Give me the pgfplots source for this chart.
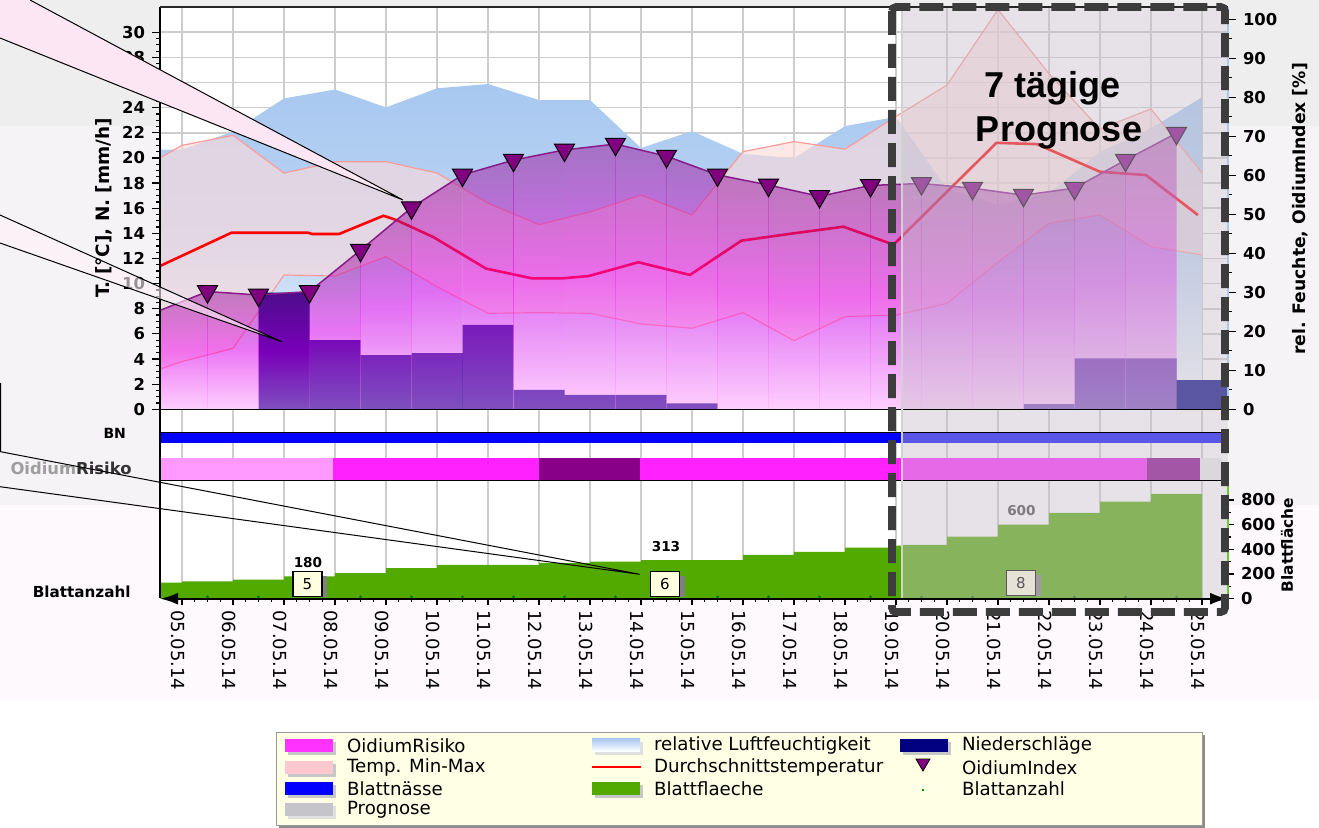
\documentclass[border=0pt]{standalone}
\usepackage{pgfplots}
\pgfplotsset{compat=1.18}
\usepackage{fontspec}
\setmainfont{DejaVu Sans}
\newfontfamily\arialfont{Liberation Sans}
\usetikzlibrary{arrows.meta}

\definecolor{bgA}{HTML}{EEEEEE}
\definecolor{bgB}{HTML}{F5F3F5}
\definecolor{bgC}{HTML}{FDF9FD}
\definecolor{gridc}{HTML}{CDCDCD}
\definecolor{humid}{HTML}{A8C8F0}
\definecolor{humidM}{HTML}{BCD4F4}
\definecolor{tband}{HTML}{FCDADA}
\definecolor{tline}{HTML}{FF9A9A}
\definecolor{navy}{HTML}{000080}
\definecolor{oTop}{HTML}{9A1A98}
\definecolor{oMid}{HTML}{F000F0}
\definecolor{oBot}{HTML}{FFA0FF}
\definecolor{oLine}{HTML}{8A1A8A}
\definecolor{oMark}{HTML}{800080}
\definecolor{ovl}{HTML}{C8C0CC}
\definecolor{bn}{HTML}{0000FF}
\definecolor{orLight}{HTML}{FF99FF}
\definecolor{orMag}{HTML}{FF22FF}
\definecolor{orDark}{HTML}{880088}
\definecolor{orNone}{HTML}{ECECEC}
\definecolor{leafg}{HTML}{52AA00}
\definecolor{leafax}{HTML}{70C830}
\definecolor{boxcream}{HTML}{FFFFE0}
\definecolor{dashc}{HTML}{3C3C3C}
\definecolor{legbg}{HTML}{FFFFE6}
\definecolor{legMag}{HTML}{FF33FF}
\definecolor{legPink}{HTML}{FFC8D0}
\definecolor{legGray}{HTML}{C4C4CA}

\pgfplotsset{
  base/.style={scale only axis, anchor=south west, width=534pt,
     xmin=-0.4314, xmax=20.5098},
  mainbox/.style={base, at={(80pt,208.85pt)}, height=201.15pt},
  leftscale/.style={ymin=0, ymax=32.01},
  rightscale/.style={ymin=0, ymax=103.15},
  ocol/.style={draw=none, fill opacity=0.5, top color=oTop, bottom color=oBot, middle color=oMid},
}
\newcommand{\tlfont}{\bfseries\fontsize{8.2}{9}\selectfont}
\newcommand{\legfont}{\fontsize{9.1}{10}\selectfont}

\begin{document}
\begin{tikzpicture}
\useasboundingbox (0,0) rectangle (659.5pt,413.5pt);
% ---------- backgrounds ----------
\begin{scope}[shift={(0pt,413.5pt)}, x=0.5pt, y=-0.5pt]
  \fill[white] (0,0) rectangle (1319,827);
  \fill[bgC] (0,0) rectangle (1319,700);
  \fill[bgB] (0,126) rectangle (160,505);
  \fill[bgB] (1228,126) rectangle (1319,505);
  \fill[bgA] (0,0) rectangle (160,126);
  \fill[bgA] (1228,0) rectangle (1319,126);
  \fill[bgA] (160,0) rectangle (1228,7);
  \fill[white] (160,7) rectangle (1228,598.7);
\end{scope}

% ---------- main grid ----------
\begin{axis}[mainbox, leftscale, xtick={0,...,20}, ytick={0,2,...,32}, grid=major,
  major grid style={gridc, line width=0.8pt}, axis line style={draw=none},
  tick style={draw=none}, xticklabel=\empty, yticklabel=\empty]
\addplot[draw=none] coordinates {(0,0)};
\end{axis}
% ---------- rows + bottom grid ----------
\begin{axis}[base, at={(80pt,114.15pt)}, height=94.7pt, ymin=0, ymax=1,
  xtick={0,...,20}, ytick=\empty, xmajorgrids,
  major grid style={gridc, line width=0.8pt}, axis line style={draw=none},
  tick style={draw=none}, xticklabel=\empty]
\addplot[draw=none] coordinates {(0,0)};
\end{axis}

% ---------- humidity (right scale) ----------
\begin{axis}[mainbox, rightscale, hide axis]
\addplot[draw=none, top color=humid, bottom color=white, middle color=humidM] coordinates {(-0.4314,66.6) (0,66.6) (1,71.2) (2,79.7) (3,82.0) (4,77.4) (5,82.3) (6,83.4) (7,79.3) (8,79.3) (9,67.0) (10,71.3) (11,65.5) (12,64.4) (13,72.6) (14,75.0) (15,56.5) (16,52.5) (17,55.4) (18,66.0) (19,72.0) (20,80.0)} \closedcycle;
\end{axis}

% ---------- temperature, precipitation (left scale) ----------
\begin{axis}[mainbox, leftscale, hide axis]
\addplot[draw=none, fill=tband, fill opacity=0.62] coordinates {
 (-0.4314,20.0) (0,21.0) (1,21.8) (2,18.8) (3,19.7) (4,19.7) (5,18.8) (6,16.4) (7,14.7) (8,15.7) (9,17.05) (10,15.46) (11,20.5) (12,21.3) (13,20.7) (14,23.3) (15,25.8) (16,31.8) (17,26.7) (18,22.3) (19,23.9) (20,18.8)
 (20,12.28) (19,12.94) (18,15.46) (17,14.8) (16,11.7) (15,8.43) (14,7.5) (13,7.37) (12,5.46) (11,7.69) (10,6.45) (9,6.79) (8,7.64) (7,7.69) (6,7.64) (5,9.76) (4,12.14) (3,10.6) (2,10.69) (1,4.85) (0,3.8) (-0.4314,3.2)} -- cycle;
\addplot[tline, line width=0.6pt] coordinates {(-0.4314,20.0) (0,21.0) (1,21.8) (2,18.8) (3,19.7) (4,19.7) (5,18.8) (6,16.4) (7,14.7) (8,15.7) (9,17.05) (10,15.46) (11,20.5) (12,21.3) (13,20.7) (14,23.3) (15,25.8) (16,31.8) (17,26.7) (18,22.3) (19,23.9) (20,18.8)};
\addplot[tline, line width=0.6pt] coordinates {(-0.4314,3.2) (0,3.8) (1,4.85) (2,10.69) (3,10.6) (4,12.14) (5,9.76) (6,7.64) (7,7.69) (8,7.64) (9,6.79) (10,6.45) (11,7.69) (12,5.46) (13,7.37) (14,7.5) (15,8.43) (16,11.7) (17,14.8) (18,15.46) (19,12.94) (20,12.28)};
\addplot[red, line width=1.3pt] coordinates {(-0.4314,11.4) (0.97,14.05) (2.47,14.05) (2.55,13.95) (3.08,13.95) (3.95,15.4) (4.2,15.06) (4.93,13.7) (5.96,11.2) (6.86,10.42) (7.45,10.42) (7.97,10.6) (8.95,11.7) (9.96,10.69) (10.97,13.42) (11.99,14.0) (12.97,14.53) (13.95,13.1) (15.97,21.2) (16.76,21.1) (18.0,18.9) (18.9,18.64) (19.92,15.46)};
\addplot[const plot, draw=none, fill=navy] coordinates {(1.5,9.28) (2.5,5.51) (3.5,4.32) (4.5,4.46) (5.5,6.71) (6.5,1.54) (7.5,1.14) (9.5,0.48) (10.5,0) (16.5,0.42) (17.5,4.06) (19.5,2.33) (20.6,2.33)} \closedcycle;
\end{axis}

% ---------- OidiumIndex (right scale) ----------
\begin{axis}[mainbox, rightscale, axis x line=none, axis y line*=right, axis on top,
  clip marker paths=true,
  ytick={0,10,...,100}, minor y tick num=1, tick align=outside,
  major tick length=4pt, minor tick length=2pt,
  tick style={black, line width=0.6pt},
  y axis line style={draw=humid, line width=1pt, -},
  yticklabel style={font=\tlfont},
  /pgf/number format/assume math mode=true]
\addplot[ocol] coordinates {(-0.5,25.0) (0.5,30.2)} \closedcycle;
\addplot[ocol] coordinates {(0.5,30.2) (1.5,29.3)} \closedcycle;
\addplot[ocol] coordinates {(1.5,29.3) (2.5,30.2)} \closedcycle;
\addplot[ocol] coordinates {(2.5,30.2) (3.5,40.8)} \closedcycle;
\addplot[ocol] coordinates {(3.5,40.8) (4.5,51.7)} \closedcycle;
\addplot[ocol] coordinates {(4.5,51.7) (5.5,60.1)} \closedcycle;
\addplot[ocol] coordinates {(5.5,60.1) (6.5,63.9)} \closedcycle;
\addplot[ocol] coordinates {(6.5,63.9) (7.5,66.5)} \closedcycle;
\addplot[ocol] coordinates {(7.5,66.5) (8.5,68.0)} \closedcycle;
\addplot[ocol] coordinates {(8.5,68.0) (9.5,64.9)} \closedcycle;
\addplot[ocol] coordinates {(9.5,64.9) (10.5,60.1)} \closedcycle;
\addplot[ocol] coordinates {(10.5,60.1) (11.5,57.5)} \closedcycle;
\addplot[ocol] coordinates {(11.5,57.5) (12.5,54.6)} \closedcycle;
\addplot[ocol] coordinates {(12.5,54.6) (13.5,57.4)} \closedcycle;
\addplot[ocol] coordinates {(13.5,57.4) (14.5,57.9)} \closedcycle;
\addplot[ocol] coordinates {(14.5,57.9) (15.5,56.7)} \closedcycle;
\addplot[ocol] coordinates {(15.5,56.7) (16.5,54.9)} \closedcycle;
\addplot[ocol] coordinates {(16.5,54.9) (17.5,56.7)} \closedcycle;
\addplot[ocol] coordinates {(17.5,56.7) (18.5,63.9)} \closedcycle;
\addplot[ocol] coordinates {(18.5,63.9) (19.5,70.8)} \closedcycle;
\addplot[oLine, line width=0.75pt, mark=triangle*, mark size=5.8pt,
  mark options={rotate=180, fill=oMark, draw=black, line width=0.5pt}] coordinates {(-0.5,25.0) (0.5,30.2) (1.5,29.3) (2.5,30.2) (3.5,40.8) (4.5,51.7) (5.5,60.1) (6.5,63.9) (7.5,66.5) (8.5,68.0) (9.5,64.9) (10.5,60.1) (11.5,57.5) (12.5,54.6) (13.5,57.4) (14.5,57.9) (15.5,56.7) (16.5,54.9) (17.5,56.7) (18.5,63.9) (19.5,70.8)};
\addplot[draw=none, fill=ovl, fill opacity=0.45] coordinates {(14.12,0) (20.5098,0) (20.5098,103.15) (14.12,103.15)} -- cycle;
\end{axis}

% ---------- left axis (frame) ----------
\begin{axis}[mainbox, leftscale, axis x line=none, axis y line*=left,
  ytick={0,2,...,30}, minor y tick num=3, tick align=outside,
  major tick length=4pt, minor tick length=2pt,
  tick style={black, line width=0.6pt},
  y axis line style={black, line width=1.3pt, -},
  yticklabel style={font=\tlfont},
  /pgf/number format/assume math mode=true]
\addplot[draw=none] coordinates {(0,0)};
\end{axis}

% ---------- rows BN / OidiumRisiko ----------
\begin{axis}[base, at={(80pt,173pt)}, height=35.85pt, ymin=0, ymax=71.7, hide axis]
\addplot[draw=none, fill=bn] coordinates {(-0.4314,37.7) (20.39,37.7) (20.39,48.3) (-0.4314,48.3)} -- cycle;
\addplot[draw=none, fill=orLight] coordinates {(-0.4314,1) (2.951,1) (2.951,22.7) (-0.4314,22.7)} -- cycle;
\addplot[draw=none, fill=orMag] coordinates {(2.951,1) (6.994,1) (6.994,22.7) (2.951,22.7)} -- cycle;
\addplot[draw=none, fill=orDark] coordinates {(6.994,1) (8.975,1) (8.975,22.7) (6.994,22.7)} -- cycle;
\addplot[draw=none, fill=orMag] coordinates {(8.975,1) (18.92,1) (18.92,22.7) (8.975,22.7)} -- cycle;
\addplot[draw=none, fill=orDark] coordinates {(18.92,1) (19.96,1) (19.96,22.7) (18.92,22.7)} -- cycle;
\addplot[draw=none, fill=orNone] coordinates {(19.96,1) (20.39,1) (20.39,22.7) (19.96,22.7)} -- cycle;
\end{axis}

% ---------- leaf area (bottom) ----------
\begin{axis}[base, at={(80pt,114.15pt)}, height=58.85pt, ymin=0, ymax=953.5, hide axis, clip=false]
\addplot[const plot, draw=none, fill=leafg] coordinates {(-0.4314,130) (0,140) (1,154) (2,180) (3,208) (4,248) (5,275) (7,290) (8,300) (9,313) (11,356) (12,380) (13,413) (14,430) (14.14,437) (15,502) (16,600) (17,696) (18,786) (19,850) (20,850)} \closedcycle;
\addplot[only marks, mark=*, mark size=0.5pt, color=green!45!black] coordinates {(0.5,15) (1.5,15) (3.5,15) (4.5,15) (5.5,15) (6.5,15) (7.5,15) (8.5,15) (10.5,15) (11.5,15) (12.5,15) (13.5,15) (14.5,15) (15.5,15) (17.5,15) (18.5,15) (19.5,15)};
\node[font=\bfseries\fontsize{6.8}{7}\selectfont] at (axis cs:2.47,291) {180};
\node[font=\bfseries\fontsize{6.8}{7}\selectfont] at (axis cs:9.49,420) {313};
\node[font=\bfseries\fontsize{6.8}{7}\selectfont, text=black!75] at (axis cs:16.46,711) {600};
\fill[black!50] ([xshift=7pt,yshift=4.3pt]axis cs:2.46,117) rectangle ([xshift=10pt,yshift=-6.2pt]axis cs:2.46,117);
\node[draw=black, fill=boxcream, line width=0.6pt, minimum width=14.5pt, minimum height=12.4pt, inner sep=0pt, font=\fontsize{7.5}{8}\selectfont] at (axis cs:2.46,117) {5};
\fill[black!50] ([xshift=7pt,yshift=4.3pt]axis cs:9.47,117) rectangle ([xshift=10pt,yshift=-6.2pt]axis cs:9.47,117);
\node[draw=black, fill=boxcream, line width=0.6pt, minimum width=14.5pt, minimum height=12.4pt, inner sep=0pt, font=\fontsize{7.5}{8}\selectfont] at (axis cs:9.47,117) {6};
\fill[black!50] ([xshift=7pt,yshift=4.3pt]axis cs:16.45,125) rectangle ([xshift=10pt,yshift=-6.2pt]axis cs:16.45,125);
\node[draw=black, fill=boxcream, line width=0.6pt, minimum width=14.5pt, minimum height=12.4pt, inner sep=0pt, font=\fontsize{7.5}{8}\selectfont] at (axis cs:16.45,125) {8};
\end{axis}

% ---------- overlay rows + bottom ----------
\begin{axis}[base, at={(80pt,114.15pt)}, height=94.7pt, ymin=0, ymax=1, hide axis]
\addplot[draw=none, fill=ovl, fill opacity=0.45] coordinates {(14.12,0) (20.5098,0) (20.5098,1) (14.12,1)} -- cycle;
\end{axis}

% ---------- bottom frame with date axis ----------
\begin{axis}[base, at={(80pt,114.15pt)}, height=58.85pt, ymin=0, ymax=953.5,
  axis x line*=bottom, axis y line*=right,
  x axis line style={line width=1.2pt, {Latex[length=9pt,width=6pt]}-{Latex[length=9pt,width=6pt]}},
  y axis line style={draw=leafax, line width=0.9pt, -},
  xtick={0,...,20}, minor x tick num=3,
  xticklabels={05.05.14,06.05.14,07.05.14,08.05.14,09.05.14,10.05.14,11.05.14,12.05.14,13.05.14,14.05.14,15.05.14,16.05.14,17.05.14,18.05.14,19.05.14,20.05.14,21.05.14,22.05.14,23.05.14,24.05.14,25.05.14},
  ytick={0,200,...,800}, minor y tick num=1,
  tick align=outside, major tick length=3pt, minor tick length=1.6pt,
  tick style={black, line width=0.6pt},
  xticklabel style={rotate=-90, anchor=west, yshift=-2.2pt, xshift=-0.8pt, font=\fontsize{9}{10}\selectfont},
  yticklabel style={font=\tlfont},
  /pgf/number format/assume math mode=true]
\addplot[draw=none] coordinates {(0,0)};
\end{axis}

% ---------- decorations, titles, legend ----------
\begin{scope}[shift={(0pt,413.5pt)}, x=0.5pt, y=-0.5pt]
  \draw[black!85, line width=0.75pt] (160,7) -- (1228,7);
  \draw[black, line width=0.8pt] (160,409.3) -- (1222,409.3);
  \draw[black, line width=0.75pt] (160,432.3) -- (1222,432.3);
  \draw[black, line width=0.75pt] (160,480.7) -- (1222,480.7);
  \draw[black, line width=0.7pt] (160,409) -- (160,598);
  \draw[black!18, line width=1pt] (902,7) -- (902,598);
  \fill[magenta!10] (0,0) -- (30,0) -- (403,200) -- (0,38) -- cycle;
  \fill[magenta!5, fill opacity=0.6] (0,215) -- (281.7,341.7) -- (0,243) -- cycle;
  \node[rotate=90, font=\bfseries\fontsize{9.2}{10}\selectfont] at (104,208) {T. [°C], N. [mm/h]};
  \node[rotate=90, font=\bfseries\fontsize{8.6}{10}\selectfont] at (1300,209) {rel. Feuchte, OidiumIndex [\%]};
  \node[rotate=90, font=\bfseries\fontsize{7.7}{8}\selectfont] at (1287,545) {Blattfläche};
  \node[anchor=east, font=\bfseries\fontsize{7}{8}\selectfont] at (133,433) {BN};
  \node[anchor=east, font=\bfseries\fontsize{8.2}{9}\selectfont, inner sep=0pt] at (132,468) {\textcolor{black!38}{Oidium}\textcolor{black!80}{Risiko}};
  \node[anchor=east, font=\bfseries\fontsize{7.6}{8}\selectfont, inner sep=0pt] at (131,592) {Blattanzahl};
  \draw[dashc, line width=3.8pt, dash pattern=on 12pt off 4.5pt, rounded corners=2pt] (892,7) rectangle (1225,612);
  \node[anchor=base, font=\arialfont\bfseries\fontsize{18}{20}\selectfont, inner sep=0pt] at (1053,98) {7 tägige};
  \node[anchor=base, font=\arialfont\bfseries\fontsize{18}{20}\selectfont, inner sep=0pt] at (1059,142) {Prognose};
  \draw[black, line width=0.5pt] (30,0) -- (403,200) -- (0,38);
  \draw[black, line width=0.5pt] (0,215) -- (281.7,341.7) -- (0,243);
  \draw[black, line width=0.5pt] (0.5,383) -- (0.5,451.7) -- (639.7,574.3) -- (0,486.7);
  % legend
  \fill[black!45] (279,735) rectangle (1205,828);
  \filldraw[fill=legbg, draw=black!40, line width=0.5pt] (276,732) rectangle (1202,825);
  \fill[black!22] (288,741.5) rectangle (336,754.5); \fill[legMag] (285,738.5) rectangle (333,751.5);
  \fill[black!22] (288,763.5) rectangle (336,776.5); \fill[legPink] (285,760.5) rectangle (333,773.5);
  \fill[black!22] (288,784.5) rectangle (336,797.5); \fill[bn] (285,781.5) rectangle (333,794.5);
  \fill[black!12] (288,805.5) rectangle (336,818.5); \fill[legGray] (285,802.5) rectangle (333,815.5);
  \node[anchor=west, font=\legfont] at (340,745.5) {OidiumRisiko};
  \node[anchor=west, font=\legfont] at (340,767.5) {Temp. Min-Max};
  \node[anchor=west, font=\legfont] at (340,788.5) {Blattnässe};
  \node[anchor=west, font=\legfont] at (340,809.5) {Prognose};
  \fill[black!12] (595,741.5) rectangle (643,754.5); \shade[top color=humid, bottom color=white] (592,738.5) rectangle (640,751.5);
  \draw[red, line width=1.2pt] (592,767) -- (641,767);
  \fill[black!22] (595,784.5) rectangle (643,797.5); \fill[leafg] (592,781.5) rectangle (640,794.5);
  \node[anchor=west, font=\legfont] at (647,745.5) {relative Luftfeuchtigkeit};
  \node[anchor=west, font=\legfont] at (647,767.5) {Durchschnittstemperatur};
  \node[anchor=west, font=\legfont] at (647,788.5) {Blattflaeche};
  \fill[black!22] (903,741.5) rectangle (951,754.5); \fill[navy] (900,738.5) rectangle (948,751.5);
  \filldraw[fill=oMark, draw=black, line width=0.4pt] (916,759) -- (930,759) -- (923,771) -- cycle;
  \fill[green!60!black] (922,789) rectangle (924,791);
  \node[anchor=west, font=\legfont] at (955,745.5) {Niederschläge};
  \node[anchor=west, font=\legfont] at (955,767.5) {OidiumIndex};
  \node[anchor=west, font=\legfont] at (955,788.5) {Blattanzahl};
\end{scope}
\end{tikzpicture}
\end{document}
